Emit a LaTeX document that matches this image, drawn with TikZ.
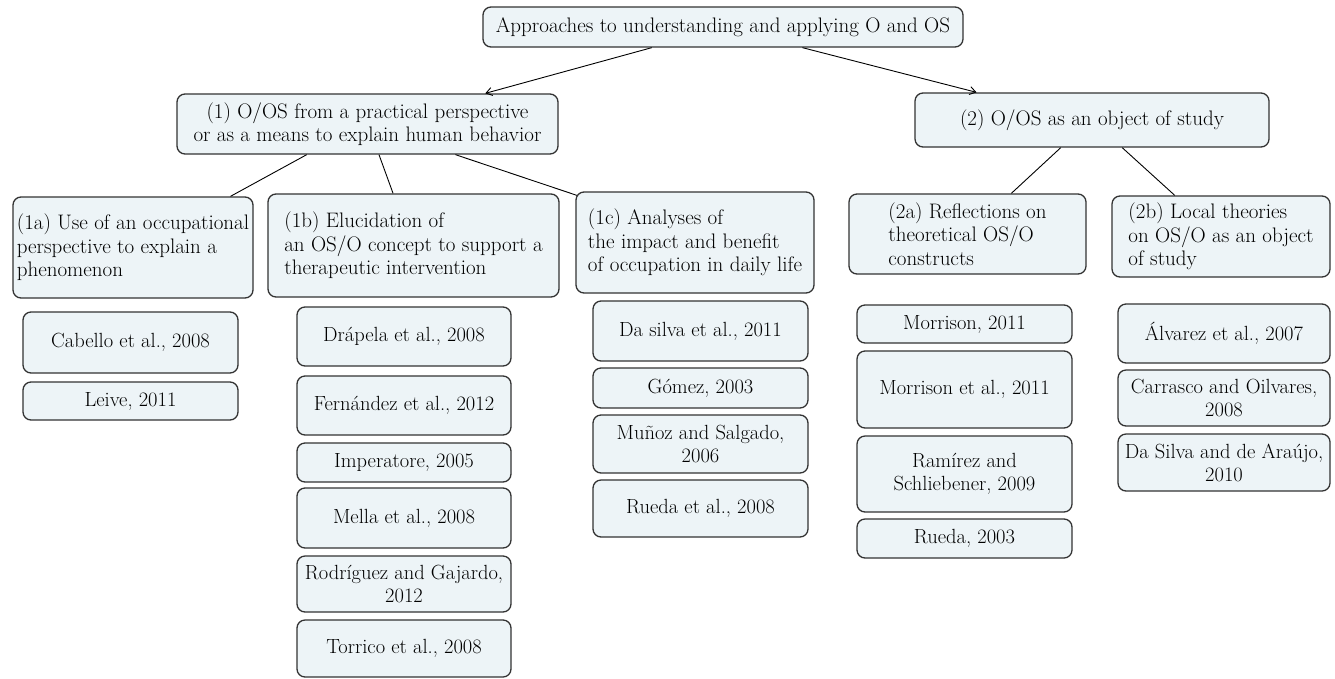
\documentclass[tikz,border=0pt]{standalone}
\usepackage{fontspec}
\usetikzlibrary{calc,arrows.meta}
\definecolor{boxfill}{HTML}{EDF4F7}
\definecolor{boxline}{HTML}{333333}

\begin{document}
\begin{tikzpicture}[x=1pt,y=-1pt,
    box/.style={draw=boxline,fill=boxfill,line width=1.3pt,rounded corners=8pt,
      inner sep=0pt,font=\fontsize{21}{23.5}\selectfont},
    head/.style={box,align=left},
    cite/.style={box,align=center,font=\fontsize{20.5}{23}\selectfont},
    link/.style={line width=0.9pt},
    tip/.style={-{Straight Barb[length=6pt,width=8pt]}}]
  \useasboundingbox (0,0) rectangle (1335,678);

  % top levels
  \node[box,minimum width=480pt,minimum height=40pt] (root) at (723,27) {Approaches to understanding and applying O and OS};
  \node[box,align=center,minimum width=381pt,minimum height=60pt] (pract) at (367.5,124) {(1) O/OS from a practical perspective\\or as a means to explain human behavior};
  \node[box,minimum width=354pt,minimum height=54pt] (study) at (1092,120) {(2) O/OS as an object of study};

  \node[head,minimum width=240pt,minimum height=101pt] (pA) at (133,247.5) {(1a) Use of an occupational\\perspective to explain a\\phenomenon};
  \node[head,minimum width=291pt,minimum height=103pt] (pB) at (413.5,245.5) {(1b) Elucidation of\\an OS/O concept to support a\\therapeutic intervention};
  \node[head,minimum width=238pt,minimum height=101pt] (pC) at (695,242.5) {(1c) Analyses of\\the impact and benefit\\of occupation in daily life};
  \node[head,minimum width=237pt,minimum height=80pt] (sA) at (967.5,234) {(2a) Reflections on\\theoretical OS/O\\constructs};
  \node[head,minimum width=218pt,minimum height=81pt] (sB) at (1221,236.5) {(2b) Local theories\\on OS/O as an object\\of study};

  \draw[link,tip] ($(root.south west)!0.352!(root.south east)$) -- ($(pract.north west)!0.808!(pract.north east)$);
  \draw[link,tip] ($(root.south west)!0.665!(root.south east)$) -- ($(study.north west)!0.175!(study.north east)$);

  \draw[link] ($(pract.south west)!0.341!(pract.south east)$) -- ($(pA.north west)!0.904!(pA.north east)$);
  \draw[link] ($(pract.south west)!0.530!(pract.south east)$) -- ($(pB.north west)!0.430!(pB.north east)$);
  \draw[link] ($(pract.south west)!0.730!(pract.south east)$) -- ($(pC.north west)+(1.5,4)$);
  \draw[link] ($(study.south west)!0.412!(study.south east)$) -- ($(sA.north west)!0.684!(sA.north east)$);
  \draw[link] ($(study.south west)!0.585!(study.south east)$) -- ($(sB.north west)!0.289!(sB.north east)$);

  % references under (1a)
  \node[cite,minimum width=215pt,minimum height=61pt] (cabello) at (130.5,342.5) {Cabello et al., 2008};
  \node[cite,minimum width=215pt,minimum height=38pt] (leive) at (130.5,401) {Leive, 2011};

  % references under (1b)
  \node[cite,minimum width=214pt,minimum height=59pt] (drapela) at (404,336.5) {Drápela et al., 2008};
  \node[cite,minimum width=214pt,minimum height=59pt] (fernandez) at (404,405.5) {Fernández et al., 2012};
  \node[cite,minimum width=214pt,minimum height=39pt] (imperatore) at (404,462.5) {Imperatore, 2005};
  \node[cite,minimum width=214pt,minimum height=60pt] (mella) at (404,518) {Mella et al., 2008};
  \node[cite,minimum width=214pt,minimum height=56pt] (rodriguez) at (404,584) {Rodríguez and Gajardo,\\2012};
  \node[cite,minimum width=214pt,minimum height=57pt] (torrico) at (404,648.5) {Torrico et al., 2008};

  % references under (1c)
  \node[cite,minimum width=215pt,minimum height=60pt] (dasilvaA) at (700.5,331) {Da silva et al., 2011};
  \node[cite,minimum width=215pt,minimum height=40pt] (gomez) at (700.5,388) {Gómez, 2003};
  \node[cite,minimum width=215pt,minimum height=58pt] (munoz) at (700.5,444) {Muñoz and Salgado,\\2006};
  \node[cite,minimum width=215pt,minimum height=57pt] (ruedaA) at (700.5,508.5) {Rueda et al., 2008};

  % references under (2a)
  \node[cite,minimum width=215pt,minimum height=38pt] (morrisonA) at (964.5,324) {Morrison, 2011};
  \node[cite,minimum width=215pt,minimum height=77pt] (morrisonB) at (964.5,389.5) {Morrison et al., 2011};
  \node[cite,minimum width=215pt,minimum height=76pt] (ramirez) at (964.5,474) {Ramírez and\\Schliebener, 2009};
  \node[cite,minimum width=215pt,minimum height=39pt] (ruedaB) at (964.5,538.5) {Rueda, 2003};

  % references under (2b)
  \node[cite,minimum width=212pt,minimum height=59pt] (alvarez) at (1224,333.5) {Álvarez et al., 2007};
  \node[cite,minimum width=212pt,minimum height=56pt] (carrasco) at (1224,398) {Carrasco and Oilvares,\\2008};
  \node[cite,minimum width=212pt,minimum height=57pt] (dasilvaB) at (1224,462.5) {Da Silva and de Araújo,\\2010};
\end{tikzpicture}
\end{document}
